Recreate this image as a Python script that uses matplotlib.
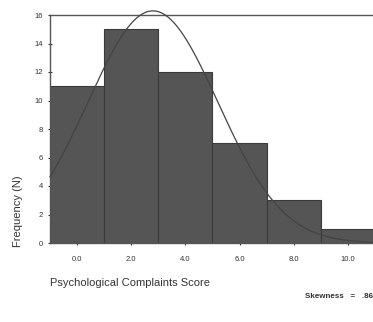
import numpy as np
import matplotlib
matplotlib.use("Agg")
import matplotlib.pyplot as plt

plt.rcParams['font.family'] = ['Liberation Sans', 'DejaVu Sans']

bin_centers = [0, 2, 4, 6, 8, 10]
frequencies = [11, 15, 12, 7, 3, 1]
bin_width = 2.0
x_ticks = [0, 2, 4, 6, 8, 10]
x_tick_labels = ["0.0", "2.0", "4.0", "6.0", "8.0", "10.0"]
y_ticks = [0, 2, 4, 6, 8, 10, 12, 14, 16]
fit_mean = 2.8
fit_sd = 2.4
n_total = 49
skew_text = "Skewness   =   .86"

W, H = 373, 322
fig = plt.figure(figsize=(W / 100, H / 100), dpi=100)
left, bottom, top = 50 / W, (H - 243) / H, (H - 15) / H
width = 352 / W
ax = fig.add_axes([left, bottom, width, top - bottom])

ax.bar(bin_centers, frequencies, width=bin_width, color='#555555',
       edgecolor='#3a3a3a', linewidth=0.8, zorder=2)

xs = np.linspace(-1, 12, 400)
ys = n_total * bin_width / (np.sqrt(2 * np.pi) * fit_sd) * np.exp(-0.5 * ((xs - fit_mean) / fit_sd) ** 2)
ax.plot(xs, ys, color='#444444', linewidth=0.9, zorder=3, clip_on=False)

ax.set_xlim(-1, 12)
ax.set_ylim(0, 16)
ax.set_xticks(x_ticks)
ax.set_xticklabels(x_tick_labels)
ax.set_yticks(y_ticks)
ax.tick_params(axis='both', labelsize=5.5, length=2.5, width=0.8, direction='inout',
               colors='#333333')
ax.tick_params(axis='x', pad=8)
ax.tick_params(axis='y', pad=4)
for s in ['left', 'bottom', 'top']:
    ax.spines[s].set_color('#555555')
    ax.spines[s].set_linewidth(1.0)
ax.spines['right'].set_visible(False)

fig.text(50 / W, 1 - 283 / H, "Psychological Complaints Score", fontsize=8,
         color='#333333', ha='left', va='center')
fig.text(18 / W, 1 - 211 / H, "Frequency (N)", fontsize=8, color='#333333',
         rotation=90, ha='center', va='center')
fig.text(305 / W, 1 - 297 / H, skew_text, fontsize=5.8, color='#333333',
         ha='left', va='center', fontweight='bold')

fig.savefig("out.png", dpi=100)
